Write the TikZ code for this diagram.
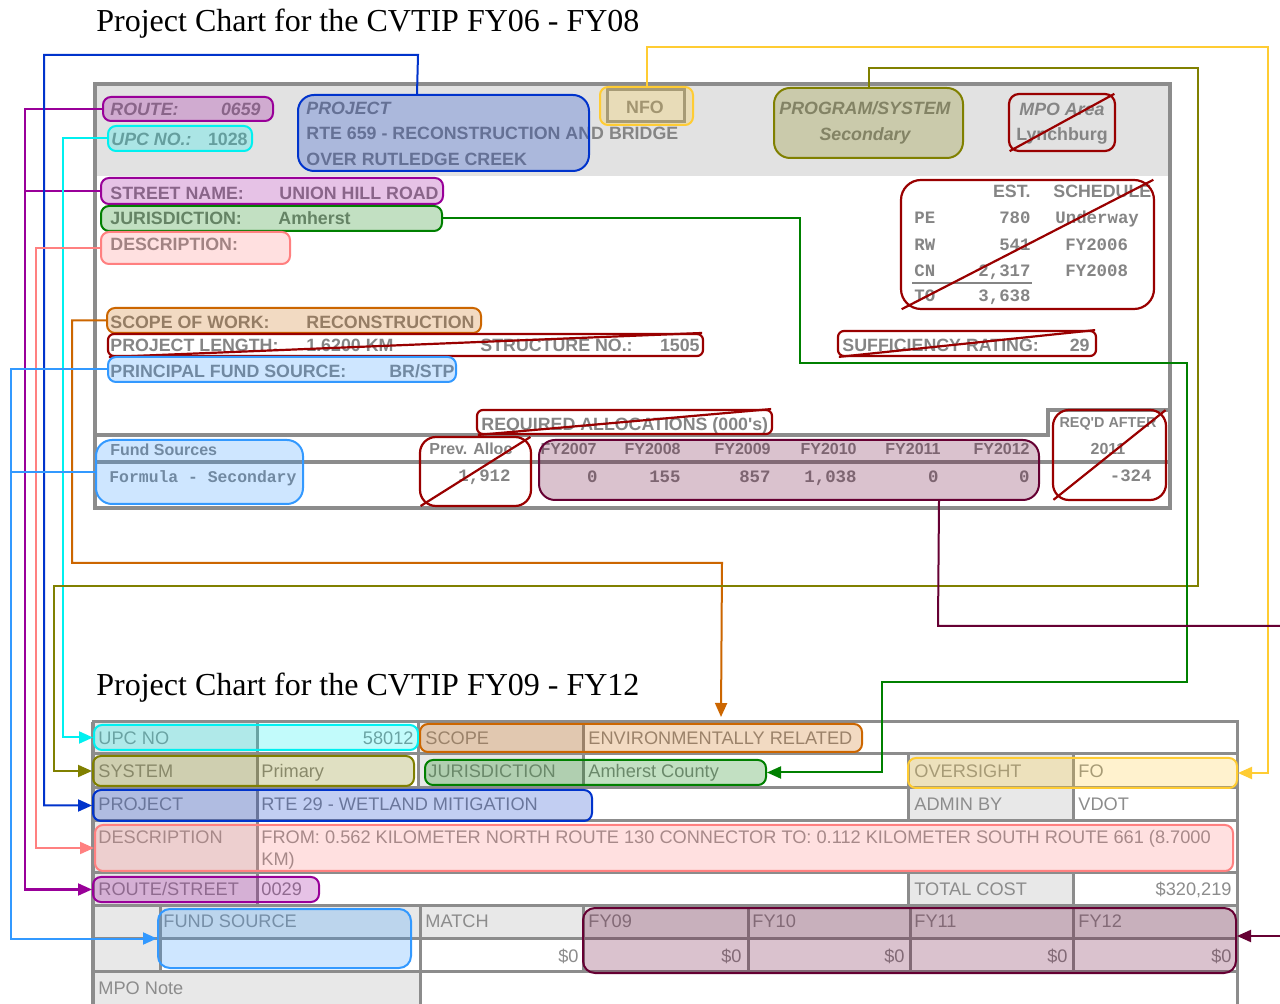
\documentclass[tikz,border=0pt]{standalone}
\usepackage{fontspec}
\setmainfont{Liberation Serif}
\newfontfamily\arial{Liberation Sans}
\newfontfamily\cour{Liberation Mono}
\usetikzlibrary{fit,arrows.meta,calc}
\definecolor{txg}{HTML}{858585}
\definecolor{txh}{HTML}{8C8C8C}
\definecolor{cPur}{HTML}{990099}
\definecolor{cCya}{HTML}{00F0F0}
\definecolor{cBlu}{HTML}{0033CC}
\definecolor{cPnk}{HTML}{FF8080}
\definecolor{cOrg}{HTML}{CC6600}
\definecolor{cLbl}{HTML}{3399FF}
\definecolor{cOli}{HTML}{808000}
\definecolor{cYel}{HTML}{FFCC33}
\definecolor{cGrn}{HTML}{008000}
\definecolor{cRed}{HTML}{990000}
\definecolor{cMar}{HTML}{660033}
\definecolor{frm}{HTML}{8C8C8C}
\definecolor{hdr}{HTML}{E2E2E2}
\definecolor{lbl}{HTML}{E8E8E8}
\tikzset{
 hl/.style={draw=#1, fill=#1, fill opacity=0.24, line width=1pt, rounded corners=4pt, inner sep=0pt},
 xb/.style={draw=cRed, line width=1.1pt, rounded corners=5pt, inner sep=0pt},
 xd/.style={draw=cRed, line width=1.1pt, shorten <=1pt, shorten >=1pt},
 frame/.style={draw=frm, line width=2pt},
 cell/.style={draw=frm, line width=1.5pt},
 lab/.style={cell, fill=lbl},
 title/.style={anchor=base west, inner sep=0pt, font=\fontsize{16}{19}\selectfont},
 tb/.style={anchor=base west, inner sep=0pt, text=txg, font=\arial\bfseries\fontsize{8.9}{10}\selectfont},
 tbi/.style={anchor=base west, inner sep=0pt, text=txg, font=\arial\bfseries\itshape\fontsize{8.9}{10}\selectfont},
 tbs/.style={anchor=base west, inner sep=0pt, text=txg, font=\arial\bfseries\fontsize{8}{10}\selectfont},
 tm/.style={anchor=base west, inner sep=0pt, text=txg, font=\cour\bfseries\fontsize{8.7}{10}\selectfont},
 tms/.style={anchor=base west, inner sep=0pt, text=txg, font=\cour\bfseries\fontsize{8.2}{10}\selectfont},
 tn/.style={anchor=base west, inner sep=0pt, text=txh, font=\arial\fontsize{9.1}{11}\selectfont},
 cn/.style={line width=1pt},
 arr/.style={-{Triangle[length=7pt,width=6pt]}},
}
\begin{document}
\begin{tikzpicture}[x=0.5pt,y=-0.5pt]
\useasboundingbox (0,0) rectangle (1280,1004);
\fill[white] (0,0) rectangle (1280,1004);
% titles
\node[title] (ti1) at (96,32) {Project Chart for the CVTIP FY06 - FY08};
\node[title] (ti2) at (96,696) {Project Chart for the CVTIP FY09 - FY12};

% ===== top form =====
\fill[hdr] (97,86) rectangle (1168,176);
\draw[frame] (95,84) rectangle (1170,508);
\draw[frame] (95,435) -- (1048,435) -- (1048,410) -- (1170,410);
\draw[frame] (95,462) -- (1170,462);
\draw[frame,line width=1.5pt] (607,90) rectangle (684,122);

\node[tbi] (a1) at (110,116) {ROUTE:};
\node[tbi,anchor=base east] (a2) at (261,116) {0659};
\node[tbi] (a3) at (111,146) {UPC NO.:};
\node[tb,anchor=base east] (a4) at (248,146) {1028};
\node[tbi] (a5) at (306,115) {PROJECT};
\node[tb] (a6) at (306,140) {RTE 659 - RECONSTRUCTION AND BRIDGE};
\node[tb] (a7) at (306,166) {OVER RUTLEDGE CREEK};
\node[tb,anchor=base] (a8) at (645,114) {NFO};
\node[tbi,anchor=base] (a9) at (865,115) {PROGRAM/SYSTEM};
\node[tbi,anchor=base] (a10) at (865,141) {Secondary};
\node[tbi,anchor=base] (a11) at (1062,116) {MPO Area};
\node[tb,anchor=base] (a12) at (1062,141) {Lynchburg};
\node[tb] (b1) at (110,200) {STREET NAME:};
\node[tb,anchor=base east] (b2) at (439,200) {UNION HILL ROAD};
\node[tb] (b3) at (110,225) {JURISDICTION:};
\node[tb] (b4) at (278,225) {Amherst};
\node[tb] (b5) at (110,251) {DESCRIPTION:};

\node[tb,anchor=base east] (e1) at (1031,198) {EST.};
\node[tb] (e2) at (1053,198) {SCHEDULE};
\node[tm] (e3) at (914,224) {PE};
\node[tm,anchor=base east] (e4) at (1031,224) {780};
\node[tm] (e5) at (1055,224) {Underway};
\node[tm] (e6) at (914,251) {RW};
\node[tm,anchor=base east] (e7) at (1031,251) {541};
\node[tm] (e8) at (1065,251) {FY2006};
\node[tm] (e9) at (914,277) {CN};
\node[tm,anchor=base east] (e10) at (1031,277) {2,317};
\node[tm] (e11) at (1065,277) {FY2008};
\draw[txg,line width=1pt] (912,283) -- (1032,283);
\node[tm] (e12) at (914,302) {TO};
\node[tm,anchor=base east] (e13) at (1031,302) {3,638};

\node[tb] (c1) at (110,329) {SCOPE OF WORK:};
\node[tb] (c2) at (306,329) {RECONSTRUCTION};
\node[tb] (c3) at (110,352) {PROJECT LENGTH:};
\node[tb] (c4) at (306,352) {1.6200 KM};
\node[tb] (c5) at (480,352) {STRUCTURE NO.:};
\node[tb,anchor=base east] (c6) at (700,352) {1505};
\node[tb] (c7) at (110,378) {PRINCIPAL FUND SOURCE:};
\node[tb,anchor=base east] (c8) at (455,378) {BR/STP};
\node[tb] (c9) at (842,352) {SUFFICIENCY RATING:};
\node[tb,anchor=base east] (c10) at (1090,352) {29};

\node[tb] (d1) at (481,431) {REQUIRED ALLOCATIONS (000's)};
\node[tbs] (d2) at (110,456) {Fund Sources};
\node[tms] (d3) at (109,483) {Formula - Secondary};
\node[tbs] (d4) at (429,455) {Prev. Alloc};
\node[tm,anchor=base east] (d5) at (511,482) {1,912};
\node[tbs,anchor=base east] (f1) at (597,455) {FY2007};
\node[tbs,anchor=base east] (f2) at (681,455) {FY2008};
\node[tbs,anchor=base east] (f3) at (771,455) {FY2009};
\node[tbs,anchor=base east] (f4) at (857,455) {FY2010};
\node[tbs,anchor=base east] (f5) at (941,455) {FY2011};
\node[tbs,anchor=base east] (f6) at (1030,455) {FY2012};
\node[tm,anchor=base east] (g1) at (598,483) {0};
\node[tm,anchor=base east] (g2) at (681,483) {155};
\node[tm,anchor=base east] (g3) at (771,483) {857};
\node[tm,anchor=base east] (g4) at (857,483) {1,038};
\node[tm,anchor=base east] (g5) at (939,483) {0};
\node[tm,anchor=base east] (g6) at (1030,483) {0};
\node[tbs,anchor=base,font=\arial\bfseries\fontsize{7.2}{9}\selectfont] (h1) at (1108,428) {REQ'D AFTER};
\node[tbs,anchor=base] (h2) at (1108,455) {2011};
\node[tm,anchor=base east] (h3) at (1152,482) {-324};

% highlight boxes (top)
\node[hl=cPur, fit={(103,97)(273,121)}] (route) {};
\node[hl=cCya, fit={(108,126)(252,151)}] (upc) {};
\node[hl=cBlu, rounded corners=8pt, fit={(298,95)(589,171)}] (proj) {};
\node[hl=cYel, fit={(600,87)(693,125)}] (nfo) {};
\node[hl=cOli, rounded corners=8pt, fit={(774,88)(963,158)}] (prog) {};
\node[xb, fit={(1009,94)(1115,151)}] (mpo) {};
\draw[xd] (mpo.south west) -- (mpo.north east);
\node[hl=cPur, fit={(101,178)(443,204)}] (street) {};
\node[hl=cGrn, fit={(101,206)(442,231)}] (juris) {};
\node[hl=cPnk, fit={(101,232)(290,264)}] (desc) {};
\node[xb, rounded corners=10pt, fit={(901,180)(1154,309)}] (est) {};
\draw[xd] (est.south west) -- (est.north east);
\node[hl=cOrg, fit={(107,308)(481,333)}] (scope) {};
\node[xb, rounded corners=3pt, fit={(108,334)(703,356)}] (plen) {};
\draw[xd] (plen.south west) -- (plen.north east);
\node[hl=cLbl, fit={(108,357)(456,382)}] (pfs) {};
\node[xb, rounded corners=3pt, fit={(838,331)(1096,356)}] (suff) {};
\draw[xd] (suff.south west) -- (suff.north east);
\node[xb, rounded corners=3pt, fit={(477,410)(772,434)}] (reqa) {};
\draw[xd] (reqa.south west) -- (reqa.north east);
\node[hl=cLbl, rounded corners=8pt, fit={(96,440)(303,504)}] (fsrc) {};
\node[xb, rounded corners=8pt, fit={(420,437)(531,506)}] (prev) {};
\draw[xd] (prev.south west) -- (prev.north east);
\node[hl=cMar, rounded corners=8pt, fit={(539,440)(1039,500)}] (fy) {};
\node[xb, rounded corners=8pt, fit={(1053,410)(1166,500)}] (reqd) {};
\draw[xd] (reqd.south west) -- (reqd.north east);

% ===== bottom form =====
\draw[frame] (93,722) -- (1237,722) -- (1237,1010);
\draw[frame] (93,722) -- (93,1010);
% row 1
\filldraw[lab] (93,722) rectangle (257,754);
\filldraw[cell,fill=white] (257,722) rectangle (418,754);
\filldraw[lab] (418,722) rectangle (583,754);
\filldraw[cell,fill=white] (583,722) rectangle (1237,754);
% row 2
\filldraw[lab] (93,754) rectangle (257,788);
\filldraw[cell,fill=white] (257,754) rectangle (418,788);
\filldraw[lab] (418,754) rectangle (583,788);
\filldraw[cell,fill=white] (583,754) rectangle (908,788);
\filldraw[lab] (908,754) rectangle (1073,788);
\filldraw[cell,fill=white] (1073,754) rectangle (1237,788);
% row 3
\filldraw[lab] (93,788) rectangle (257,821);
\filldraw[cell,fill=white] (257,788) rectangle (908,821);
\filldraw[lab] (908,788) rectangle (1073,821);
\filldraw[cell,fill=white] (1073,788) rectangle (1237,821);
% row 4
\filldraw[lab] (93,821) rectangle (257,873);
\filldraw[cell,fill=white] (257,821) rectangle (1237,873);
% row 5
\filldraw[lab] (93,873) rectangle (257,905);
\filldraw[cell,fill=white] (257,873) rectangle (908,905);
\filldraw[lab] (908,873) rectangle (1073,905);
\filldraw[cell,fill=white] (1073,873) rectangle (1237,905);
% row 6
\filldraw[lab] (93,905) rectangle (160,938);
\filldraw[lab] (160,905) rectangle (420,938);
\filldraw[lab] (420,905) rectangle (583,938);
\filldraw[lab] (583,905) rectangle (748,938);
\filldraw[lab] (748,905) rectangle (910,938);
\filldraw[lab] (910,905) rectangle (1073,938);
\filldraw[lab] (1073,905) rectangle (1237,938);
% row 7
\filldraw[lab] (93,938) rectangle (160,971);
\filldraw[cell,fill=white] (160,938) rectangle (420,971);
\filldraw[cell,fill=white] (420,938) rectangle (583,971);
\filldraw[cell,fill=white] (583,938) rectangle (748,971);
\filldraw[cell,fill=white] (748,938) rectangle (910,971);
\filldraw[cell,fill=white] (910,938) rectangle (1073,971);
\filldraw[cell,fill=white] (1073,938) rectangle (1237,971);
% row 8
\filldraw[lab] (93,971) rectangle (420,1010);
\filldraw[cell,fill=white] (420,971) rectangle (1237,1010);

% bottom texts
\node[tn] (m1) at (98,745) {UPC NO};
\node[tn,anchor=base east] (m2) at (414,745) {58012};
\node[tn] (m3) at (425,745) {SCOPE};
\node[tn] (m4) at (588,745) {ENVIRONMENTALLY RELATED};
\node[tn] (m5) at (98,778) {SYSTEM};
\node[tn] (m6) at (261,778) {Primary};
\node[tn] (m7) at (428,778) {JURISDICTION};
\node[tn] (m8) at (588,778) {Amherst County};
\node[tn] (m9) at (914,778) {OVERSIGHT};
\node[tn] (m10) at (1078,778) {FO};
\node[tn] (m11) at (98,811) {PROJECT};
\node[tn] (m12) at (261,811) {RTE 29 - WETLAND MITIGATION};
\node[tn] (m13) at (914,811) {ADMIN BY};
\node[tn] (m14) at (1078,811) {VDOT};
\node[tn] (m15) at (98,844) {DESCRIPTION};
\node[tn] (m16) at (261,844) {FROM: 0.562 KILOMETER NORTH ROUTE 130 CONNECTOR TO: 0.112 KILOMETER SOUTH ROUTE 661 (8.7000};
\node[tn] (m17) at (261,865) {KM)};
\node[tn] (m18) at (98,895) {ROUTE/STREET};
\node[tn] (m19) at (261,895) {0029};
\node[tn] (m20) at (914,895) {TOTAL COST};
\node[tn,anchor=base east] (m21) at (1232,895) {\$320,219};
\node[tn] (m22) at (163,928) {FUND SOURCE};
\node[tn] (m23) at (425,928) {MATCH};
\node[tn] (m24) at (588,928) {FY09};
\node[tn] (m25) at (752,928) {FY10};
\node[tn] (m26) at (914,928) {FY11};
\node[tn] (m27) at (1078,928) {FY12};
\node[tn,anchor=base east] (n1) at (579,962) {\$0};
\node[tn,anchor=base east] (n2) at (742,962) {\$0};
\node[tn,anchor=base east] (n3) at (905,962) {\$0};
\node[tn,anchor=base east] (n4) at (1068,962) {\$0};
\node[tn,anchor=base east] (n5) at (1232,962) {\$0};
\node[tn] (n6) at (98,994) {MPO Note};

% highlight boxes (bottom)
\node[hl=cCya, fit={(94,725)(418,750)}] (upc2) {};
\node[hl=cOrg, fit={(420,724)(862,752)}] (scope2) {};
\node[hl=cOli, fit={(93,756)(414,786)}] (sys2) {};
\node[hl=cGrn, fit={(425,760)(766,785)}] (juris2) {};
\node[hl=cYel, fit={(908,758)(1237,788)}] (over2) {};
\node[hl=cBlu, fit={(93,790)(592,821)}] (proj2) {};
\node[hl=cPnk, fit={(95,825)(1233,871)}] (desc2) {};
\node[hl=cPur, fit={(93,877)(319,902)}] (rs2) {};
\node[hl=cLbl, rounded corners=6pt, fit={(158,909)(411,968)}] (fs2) {};
\node[hl=cMar, rounded corners=6pt, fit={(583,908)(1236,973)}] (fy2) {};

% ===== connectors =====
\coordinate (mr1) at (1290,626);
\coordinate (mr2) at (1290,936);
\draw[cn,cPur] (street.west) -- (25,191);
\draw[cn,cPur,arr] (route.west) -- (25,109) -- (25,889.5) -- (rs2.west);
\draw[cn,cBlu,arr] ([xshift=60pt]proj.north west) -- (418,55) -- (44,55) -- (44,805.5) -- (proj2.west);
\draw[cn,cCya,arr] (upc.west) -- (63,138.5) -- (63,737.5) -- (upc2.west);
\draw[cn,cPnk,arr] (desc.west) -- (36,248) -- (36,848) -- (desc2.west);
\draw[cn,cOrg,arr] (scope.west) -- (72,320.5) -- (72,563) -- (722,563) -- ([xshift=151pt,yshift=3pt]scope2.north west);
\draw[cn,cLbl] (fsrc.west) -- (11,472);
\draw[cn,cLbl,arr] (pfs.west) -- (11,369.5) -- (11,938.5) -- (fs2.west);
\draw[cn,cOli,arr] (prog.north) -- (868.5,68) -- (1198,68) -- (1198,586) -- (54,586) -- (54,771) -- (sys2.west);
\draw[cn,cYel,arr] (nfo.north) -- (646.5,47) -- (1268,47) -- (1268,773) -- (over2.east);
\draw[cn,cGrn,arr] (juris.east) -- (800,218.5) -- (800,363) -- (1187,363) -- (1187,682) -- (882,682) -- (882,772.5) -- (juris2.east);
\draw[cn,cMar] ([xshift=-50.5pt]fy.south east) -- (938,626) -- (mr1);
\draw[cn,cMar,arr] (mr2) -- (fy2.east |- mr2);
\end{tikzpicture}
\end{document}
